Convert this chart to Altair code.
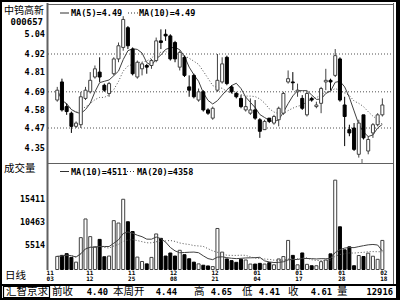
import altair as alt
import pandas as pd

# ---------------- data ----------------
opens = [4.64, 4.75, 4.60, 4.56, 4.48, 4.49, 4.65, 4.69, 4.78, 4.81,
         4.73, 4.68, 4.80, 4.89, 4.96, 5.08, 4.95, 4.78, 4.83, 4.85,
         4.85, 4.88, 5.00, 5.04, 5.03, 4.99, 4.84, 4.90, 4.72, 4.79,
         4.64, 4.69, 4.58, 4.53, 4.70, 4.75, 4.90, 4.72, 4.68, 4.65,
         4.58, 4.56, 4.58, 4.52, 4.46, 4.53, 4.50, 4.52, 4.56, 4.75,
         4.75, 4.69, 4.65, 4.55, 4.65, 4.60, 4.62, 4.75, 4.76, 4.79,
         4.89, 4.61, 4.46, 4.47, 4.31, 4.55, 4.33, 4.44, 4.49, 4.55]
highs = [4.72, 4.77, 4.62, 4.57, 4.51, 4.69, 4.72, 4.81, 4.85, 4.90,
         4.74, 4.75, 4.90, 4.99, 5.15, 5.09, 4.96, 4.88, 4.87, 4.86,
         4.89, 5.02, 5.07, 5.07, 5.04, 5.00, 4.94, 4.91, 4.79, 4.80,
         4.71, 4.70, 4.59, 4.60, 4.92, 4.90, 4.91, 4.73, 4.69, 4.67,
         4.66, 4.65, 4.64, 4.53, 4.52, 4.53, 4.55, 4.60, 4.69, 4.82,
         4.81, 4.74, 4.67, 4.69, 4.66, 4.63, 4.72, 4.83, 4.77, 4.95,
         4.90, 4.66, 4.49, 4.50, 4.52, 4.55, 4.42, 4.50, 4.56, 4.65]
lows = [4.63, 4.57, 4.55, 4.44, 4.47, 4.47, 4.64, 4.68, 4.77, 4.75,
        4.69, 4.66, 4.79, 4.87, 4.94, 4.95, 4.79, 4.77, 4.79, 4.80,
        4.83, 4.87, 4.95, 5.00, 4.88, 4.87, 4.82, 4.78, 4.66, 4.65,
        4.63, 4.57, 4.55, 4.52, 4.69, 4.74, 4.73, 4.68, 4.65, 4.59,
        4.57, 4.55, 4.52, 4.41, 4.46, 4.50, 4.49, 4.48, 4.55, 4.74,
        4.70, 4.66, 4.58, 4.54, 4.63, 4.59, 4.56, 4.70, 4.70, 4.78,
        4.63, 4.36, 4.42, 4.33, 4.29, 4.40, 4.31, 4.41, 4.48, 4.54]
closes = [4.70, 4.58, 4.57, 4.48, 4.50, 4.66, 4.70, 4.76, 4.83, 4.78,
          4.70, 4.74, 4.89, 4.97, 5.13, 4.97, 4.80, 4.87, 4.86, 4.84,
          4.88, 5.00, 4.99, 5.03, 4.89, 4.89, 4.93, 4.79, 4.70, 4.66,
          4.69, 4.58, 4.56, 4.59, 4.76, 4.86, 4.74, 4.69, 4.66, 4.60,
          4.60, 4.58, 4.53, 4.45, 4.51, 4.51, 4.54, 4.59, 4.68, 4.77,
          4.745, 4.70, 4.59, 4.68, 4.64, 4.61, 4.71, 4.76, 4.75, 4.91,
          4.64, 4.54, 4.44, 4.34, 4.50, 4.41, 4.40, 4.49, 4.55, 4.61]
volumes = [3360, 3580, 3950, 3150, 2140, 7370, 11360, 7590, 5410, 7000,
           3290, 3440, 11000, 10490, 15570, 10770, 8680, 3220, 2280, 1770,
           3150, 8160, 7220, 3440, 4090, 3440, 4670, 3730, 2860, 2140,
           1770, 1480, 1330, 1190, 9330, 4280, 2820, 2460, 2100, 2750,
           2600, 1730, 1730, 1880, 1730, 2020, 1570, 2820, 3330, 6780,
           3580, 1570, 4100, 1670, 1370, 1370, 2240, 2600, 3910, 19650,
           9690, 4770, 5410, 1370, 3550, 3340, 4060, 3400, 2740, 6780]

price_ticks = [5.04, 4.92, 4.81, 4.69, 4.58, 4.47, 4.35]
price_grid = [4.92, 4.69, 4.47]
vol_ticks = [15411, 10463, 5514]
vol_floor = 566
date_months = ["11", "11", "11", "12", "12", "01", "01", "01", "02"]
date_days = ["03", "12", "25", "08", "21", "04", "17", "28", "18"]
date_index = [-1.5, 6.9, 15.8, 24.7, 33.5, 42.4, 51.3, 60.4, 69.3]

stock_name = "中钨高新"
stock_code = "000657"
price_legend = ["MA(5)=4.49", "MA(10)=4.49"]
vol_legend = ["MA(10)=4511", "MA(20)=4358"]
status_labels = ["前收", "本周开", "高", "低", "收", "量"]
status_values = ["4.40", "4.44", "4.65", "4.41", "4.61", "12916"]

# ---------------- layout ----------------
MONO = "DejaVu Sans Mono"
CJK = "Noto Sans CJK SC"
L, R = 48, 393

df = pd.DataFrame({"idx": list(range(len(closes))), "open": opens, "high": highs,
                   "low": lows, "close": closes, "volume": volumes})
one = pd.DataFrame({"a": [0]})

xs = alt.Scale(domain=[-0.9, 70.2], range=[L, R], nice=False, zero=False)
ys = alt.Scale(domain=[4.47, 4.92], range=[128, 54], nice=False, zero=False)
vs = alt.Scale(domain=[vol_floor, 15411], range=[269.5, 200], nice=False, zero=False)
X = alt.X("idx:Q", scale=xs, axis=None)

fill_enc = alt.Fill("dir:N", scale=alt.Scale(domain=["up", "down"], range=["white", "black"]), legend=None)
stroke_enc = alt.Stroke("dir:N", scale=alt.Scale(domain=["up", "down"], range=["#404040", "black"]), legend=None)

base = alt.Chart(df).transform_calculate(dir="datum.close >= datum.open ? 'up' : 'down'")


def hrule(y, x1, x2, color="#555", w=1, dash=None):
    kw = dict(color=color, strokeWidth=w)
    if dash:
        kw["strokeDash"] = dash
    return alt.Chart(one).mark_rule(**kw).encode(y=alt.value(y), x=alt.value(x1), x2=alt.value(x2))


def vrule(x, y1, y2, color="#555", w=1):
    return alt.Chart(one).mark_rule(color=color, strokeWidth=w).encode(
        x=alt.value(x), y=alt.value(y1), y2=alt.value(y2))


def txt(s, x, y, size, font=MONO, align="left", weight="bold"):
    return alt.Chart(pd.DataFrame({"t": [s]})).mark_text(
        align=align, baseline="middle", font=font, fontSize=size, fontWeight=weight, color="black"
    ).encode(x=alt.value(x), y=alt.value(y), text="t:N")


layers = []

# price gridlines
layers.append(alt.Chart(pd.DataFrame({"p": price_grid})).mark_rule(
    color="#505050", strokeWidth=1, strokeDash=[1, 2]).encode(
    y=alt.Y("p:Q", scale=ys, axis=None), x=alt.value(L), x2=alt.value(R)))

# moving averages (price)
layers.append(base.transform_window(ma5="mean(close)", frame=[-4, 0], sort=[alt.SortField("idx")])
              .mark_line(color="#404040", strokeWidth=1)
              .encode(x=X, y=alt.Y("ma5:Q", scale=ys, axis=None)))
layers.append(base.transform_window(ma10="mean(close)", frame=[-9, 0], sort=[alt.SortField("idx")])
              .mark_line(color="#505050", strokeWidth=1, strokeDash=[1, 2])
              .encode(x=X, y=alt.Y("ma10:Q", scale=ys, axis=None)))

# candles
layers.append(base.mark_rule(strokeWidth=1).encode(
    x=X, y=alt.Y("low:Q", scale=ys, axis=None), y2="high:Q", color=alt.Color(
        "dir:N", scale=alt.Scale(domain=["up", "down"], range=["#404040", "black"]), legend=None)))
layers.append(base.mark_bar(size=3, strokeWidth=1).encode(
    x=X, y=alt.Y("open:Q", scale=ys, axis=None), y2="close:Q", fill=fill_enc, stroke=stroke_enc))

# price tick labels
layers.append(alt.Chart(pd.DataFrame({"p": price_ticks})).mark_text(
    align="right", baseline="middle", font=MONO, fontSize=8.5, fontWeight="bold", color="black").encode(
    x=alt.value(45), y=alt.Y("p:Q", scale=ys, axis=None), text=alt.Text("p:Q", format=".2f")))

# volume bars
layers.append(base.mark_bar(size=3, strokeWidth=1).encode(
    x=X, y=alt.Y("volume:Q", scale=vs, axis=None), y2=alt.datum(vol_floor),
    fill=fill_enc, stroke=stroke_enc))
layers.append(base.transform_window(v10="mean(volume)", frame=[-9, 0], sort=[alt.SortField("idx")])
              .mark_line(color="#404040", strokeWidth=1)
              .encode(x=X, y=alt.Y("v10:Q", scale=vs, axis=None)))
layers.append(base.transform_window(v20="mean(volume)", frame=[-19, 0], sort=[alt.SortField("idx")])
              .mark_line(color="#505050", strokeWidth=1, strokeDash=[1, 2])
              .encode(x=X, y=alt.Y("v20:Q", scale=vs, axis=None)))
layers.append(alt.Chart(pd.DataFrame({"v": vol_ticks})).mark_text(
    align="right", baseline="middle", font=MONO, fontSize=8.3, fontWeight="bold", color="black").encode(
    x=alt.value(45), y=alt.Y("v:Q", scale=vs, axis=None), text=alt.Text("v:Q", format="d")))

# date labels
dates = pd.DataFrame({"i": date_index, "m": date_months, "d": date_days})
for fld, yy in (("m", 272.8), ("d", 279.2)):
    layers.append(alt.Chart(dates).mark_text(
        align="center", baseline="middle", font=MONO, fontSize=6, fontWeight="bold", color="black").encode(
        x=alt.X("i:Q", scale=xs, axis=None), y=alt.value(yy), text=f"{fld}:N"))

# frames
layers += [
    hrule(4.5, L, R + 1, "#606060"),
    hrule(163.5, L, R + 1, "#606060"),
    vrule(L - 0.5, 3, 270, "#606060", 2),
    vrule(R + 0.5, 3, 284, "#606060"),
    vrule(397.5, 0, 300, "black", 3),
    vrule(362, 159, 164, "#606060"),
    hrule(285, 0, 400, "black", 2),
    alt.Chart(one).mark_rect(fillOpacity=0, stroke="black", strokeWidth=2).encode(
        x=alt.value(1), x2=alt.value(399), y=alt.value(1), y2=alt.value(299)),
    alt.Chart(one).mark_rect(fillOpacity=0, stroke="black", strokeWidth=1.2).encode(
        x=alt.value(3.5), x2=alt.value(49.5), y=alt.value(286.5), y2=alt.value(297.5)),
]

# legends
layers += [
    hrule(13, 60, 69, "#303030"),
    txt(price_legend[0], 71, 13, 8.5),
    hrule(13, 128, 138, "#303030", 1, [1, 2]),
    txt(price_legend[1], 139, 13, 8.5),
    hrule(171.5, 60, 69, "#303030"),
    txt(vol_legend[0], 71, 171.5, 8.5),
    hrule(171.5, 127, 136, "#303030", 1, [1, 2]),
    txt(vol_legend[1], 137, 171.5, 8.5),
]

# side titles
layers += [
    txt(stock_name, 4, 11, 10, CJK, weight="normal"),
    txt(stock_code, 43, 21.5, 9, MONO, align="right"),
    txt("成交量", 4, 169, 10.5, CJK, weight="normal"),
    txt("日线", 5, 275.5, 10.5, CJK, weight="normal"),
]

# status bar
layers.append(txt("汇智京求", 6, 291.5, 10.5, CJK, weight="normal"))
label_x = [52, 113, 194, 242, 288, 337]
value_x = [108, 177, 232, 280, 332, 393]
for lab, lx in zip(status_labels, label_x):
    layers.append(txt(lab, lx, 291.5, 10.5, CJK, weight="normal"))
for val, vx in zip(status_values, value_x):
    layers.append(txt(val, vx, 291.5, 8.8, MONO, align="right"))

chart = alt.layer(*layers).resolve_scale(y="independent").properties(
    width=400, height=300, padding=0, autosize=alt.AutoSizeParams(type="none")
).configure_view(strokeWidth=0).configure(background="white")

chart.save("out.html", embed_options={"renderer": "svg", "actions": False})
